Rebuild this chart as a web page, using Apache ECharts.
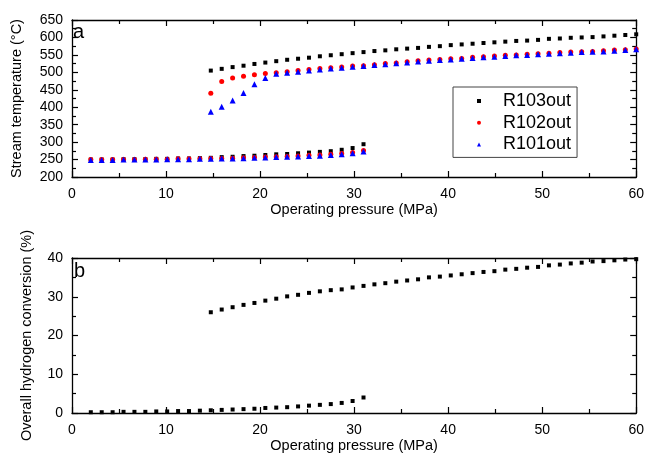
<!DOCTYPE html>
<html><head><meta charset="utf-8">
<script src="https://cdn.jsdelivr.net/npm/echarts@6/dist/echarts.min.js"></script>
<style>html,body{margin:0;padding:0;background:#fff}#c{width:647px;height:454px}</style>
</head><body><div id="c"></div>
<script>
// Operating pressure (MPa)
const pressureLow = [2, 3.16, 4.32, 5.48, 6.64, 7.8, 8.96, 10.12, 11.28, 12.44, 13.6, 14.76, 15.92, 17.08, 18.24, 19.4, 20.56, 21.72, 22.88, 24.04, 25.2, 26.36, 27.52, 28.68, 29.84, 31];
const pressureHigh = [14.76, 15.92, 17.08, 18.24, 19.4, 20.56, 21.72, 22.88, 24.04, 25.2, 26.36, 27.52, 28.68, 29.84, 31, 32.16, 33.32, 34.48, 35.64, 36.8, 37.96, 39.12, 40.28, 41.44, 42.6, 43.76, 44.92, 46.08, 47.24, 48.4, 49.56, 50.72, 51.88, 53.04, 54.2, 55.36, 56.52, 57.68, 58.84, 60];
// Stream temperature (°C)
const r103Low = [250, 250, 250, 251, 251, 251, 252, 252, 253, 253, 254, 255, 257, 258, 260, 261, 263, 265, 266, 268, 270, 272, 274, 278, 283, 294];
const r102Low = [250, 250, 250, 250, 250, 251, 251, 251, 252, 252, 252, 253, 253, 254, 255, 256, 257, 258, 259, 260, 262, 263, 265, 267, 270, 276];
const r101Low = [249, 249, 249, 250, 250, 250, 250, 251, 251, 251, 252, 252, 253, 253, 254, 255, 256, 257, 258, 259, 260, 261, 263, 265, 268, 273];
const r103High = [505, 510, 515, 519, 524, 528, 532, 536, 539, 542, 546, 549, 552, 555, 558, 561, 563, 566, 568, 570, 573, 575, 578, 580, 582, 584, 586, 588, 590, 591, 593, 596, 597, 599, 600, 601, 603, 605, 607, 609];
const r102High = [440, 474, 484, 489, 493, 497, 499, 502, 505, 508, 511, 513, 515, 518, 519, 522, 525, 527, 530, 533, 535, 537, 539, 540, 543, 545, 547, 549, 550, 552, 553, 555, 557, 558, 559, 560, 562, 564, 565, 567];
const r101High = [387, 401, 419, 441, 466, 484, 496, 499, 502, 505, 508, 511, 513, 516, 518, 521, 523, 526, 528, 531, 533, 535, 537, 539, 541, 543, 545, 547, 549, 550, 552, 553, 555, 556, 558, 559, 560, 562, 564, 566];
// Overall hydrogen conversion (%)
const convLow = [0.2, 0.2, 0.2, 0.3, 0.3, 0.3, 0.4, 0.4, 0.5, 0.5, 0.6, 0.7, 0.8, 0.9, 1.0, 1.1, 1.3, 1.4, 1.5, 1.7, 1.9, 2.1, 2.3, 2.6, 3.1, 4.0];
const convHigh = [26.0, 26.7, 27.3, 27.9, 28.4, 29.0, 29.5, 30.1, 30.5, 31.0, 31.4, 31.7, 31.9, 32.4, 32.8, 33.2, 33.5, 33.9, 34.2, 34.5, 35.0, 35.2, 35.5, 35.8, 36.1, 36.4, 36.6, 37.0, 37.2, 37.5, 37.7, 38.1, 38.3, 38.6, 38.8, 39.1, 39.2, 39.4, 39.6, 39.7];
const seriesNames = ['R103out', 'R102out', 'R101out'];

const pairs = (xs, ys) => xs.map((x, i) => [x, ys[i]]);
const FONT = '"Liberation Sans", Arial, sans-serif';

function xAx(grid, pos, labels) {
  return {
    type: 'value', gridIndex: grid, position: pos, min: 0, max: 60, interval: 10,
    axisLine: { onZero: false, lineStyle: { color: '#000', width: 1.3 } },
    axisTick: { inside: true, length: 6, lineStyle: { color: '#000', width: 1.2 } },
    minorTick: { show: true, splitNumber: 2, length: 4, lineStyle: { color: '#000', width: 1.2 } },
    splitLine: { show: false },
    axisLabel: { show: labels, color: '#000', fontSize: 14, fontFamily: FONT, margin: 10 },
    name: labels ? 'Operating pressure (MPa)' : '', nameLocation: 'middle', nameGap: 25,
    nameTextStyle: { color: '#000', fontSize: 14.5, fontFamily: FONT }
  };
}
function yAx(grid, pos, labels, min, max, interval, name, gap) {
  return {
    type: 'value', gridIndex: grid, position: pos, min: min, max: max, interval: interval,
    axisLine: { onZero: false, lineStyle: { color: '#000', width: 1.3 } },
    axisTick: { inside: true, length: 6, lineStyle: { color: '#000', width: 1.2 } },
    minorTick: { show: true, splitNumber: 2, length: 4, lineStyle: { color: '#000', width: 1.2 } },
    splitLine: { show: false },
    axisLabel: { show: labels, color: '#000', fontSize: 14, fontFamily: FONT, margin: 9 },
    name: labels ? name : '', nameLocation: 'middle', nameGap: gap,
    nameTextStyle: { color: '#000', fontSize: 14.5, fontFamily: FONT }
  };
}

const chart = echarts.init(document.getElementById('c'), null, { renderer: 'canvas' });
chart.setOption({
  animation: false,
  backgroundColor: '#fff',
  grid: [
    { left: 72, right: 9, top: 20, height: 157 },
    { left: 72, right: 9, top: 258, height: 159 }
  ],
  xAxis: [xAx(0, 'bottom', true), xAx(0, 'top', false), xAx(1, 'bottom', true), xAx(1, 'top', false)],
  yAxis: [
    yAx(0, 'left', true, 200, 650, 50, 'Stream temperature (°C)', 48),
    yAx(0, 'right', false, 200, 650, 50, '', 0),
    yAx(1, 'left', true, 0, 40, 10, 'Overall hydrogen conversion (%)', 38),
    yAx(1, 'right', false, 0, 40, 10, '', 0)
  ],
  legend: {
    data: [
      { name: seriesNames[0], icon: 'rect' },
      { name: seriesNames[1], icon: 'circle' },
      { name: seriesNames[2], icon: 'triangle' }
    ],
    orient: 'vertical', left: 453, top: 87,
    itemWidth: 4, itemHeight: 4, itemGap: 3.7,
    padding: [5, 6, 4, 24],
    borderColor: '#444', borderWidth: 1, backgroundColor: '#fff',
    textStyle: { color: '#000', fontSize: 18, fontFamily: FONT, lineHeight: 18, padding: [0, 0, 0, 17] }
  },
  graphic: [
    { type: 'text', left: 73, top: 22, style: { text: 'a', fontSize: 20, fontFamily: FONT, fill: '#000' } },
    { type: 'text', left: 74, top: 261, style: { text: 'b', fontSize: 20, fontFamily: FONT, fill: '#000' } }
  ],
  series: [
    { name: seriesNames[0], type: 'scatter', xAxisIndex: 0, yAxisIndex: 0, symbol: 'rect', symbolSize: 4,
      itemStyle: { color: '#000', opacity: 1 }, data: pairs(pressureLow, r103Low).concat(pairs(pressureHigh, r103High)) },
    { name: seriesNames[1], type: 'scatter', xAxisIndex: 0, yAxisIndex: 0, symbol: 'circle', symbolSize: 5,
      itemStyle: { color: '#ff0000', opacity: 1 }, data: pairs(pressureLow, r102Low).concat(pairs(pressureHigh, r102High)) },
    { name: seriesNames[2], type: 'scatter', xAxisIndex: 0, yAxisIndex: 0, symbol: 'triangle', symbolSize: 6,
      itemStyle: { color: '#0000ff', opacity: 1 }, data: pairs(pressureLow, r101Low).concat(pairs(pressureHigh, r101High)) },
    { name: 'conversion', type: 'scatter', xAxisIndex: 2, yAxisIndex: 2, symbol: 'rect', symbolSize: 4,
      itemStyle: { color: '#000', opacity: 1 }, data: pairs(pressureLow, convLow).concat(pairs(pressureHigh, convHigh)) }
  ]
});
</script></body></html>
